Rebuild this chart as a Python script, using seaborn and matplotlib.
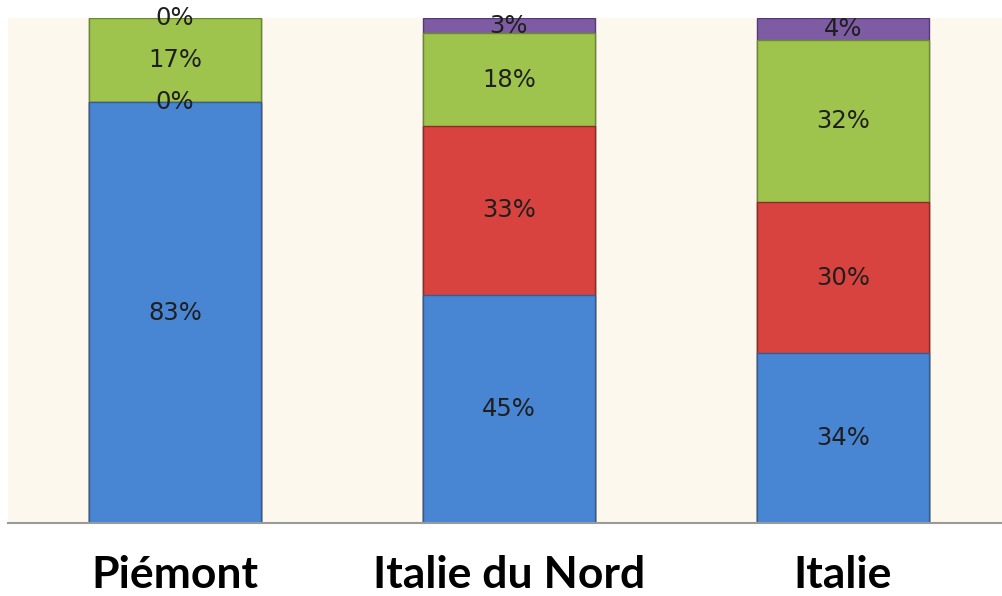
import matplotlib
matplotlib.use("Agg")
import matplotlib.pyplot as plt
import seaborn as sns
import numpy as np
import pandas as pd

categories = ["Piémont", "Italie du Nord", "Italie"]
series_names = ["S1", "S2", "S3", "S4"]
s1 = [83.3, 45.2, 33.7]
s2 = [0.0, 33.4, 29.8]
s3 = [16.7, 18.4, 32.1]
s4 = [0.0, 3.0, 4.4]
labels_s1 = ["83%", "45%", "34%"]
labels_s2 = ["0%", "33%", "30%"]
labels_s3 = ["17%", "18%", "32%"]
labels_s4 = ["0%", "3%", "4%"]

colors = ["#4886D4", "#D8433F", "#9FC44D", "#7E5CA3"]
edges = ["#2F5E9A", "#8E2A28", "#6B8A2C", "#54387A"]

sns.set_theme(style="white")
plt.rcParams["font.family"] = ["DejaVu Sans"]

fig = plt.figure(figsize=(10.03, 5.96), dpi=100)
ax = fig.add_axes([8/1003, (596-523)/596, 1 - 8/1003, (523-18)/596])
ax.set_facecolor("#FDF8EE")

series = [s1, s2, s3, s4]
labs = [labels_s1, labels_s2, labels_s3, labels_s4]
cum = np.cumsum(np.array(series), axis=0)

# draw from top down so lower layers cover upper totals
for i in range(len(series) - 1, -1, -1):
    df = pd.DataFrame({"cat": categories, "val": cum[i]})
    sns.barplot(data=df, x="cat", y="val", color=colors[i], width=0.515,
                edgecolor=edges[i], linewidth=1.0, saturation=1, ax=ax, zorder=2 + (3 - i) * 0.01)

for i in range(len(series)):
    for j in range(len(categories)):
        bottom = cum[i][j] - series[i][j]
        ymid = bottom + series[i][j] / 2
        ax.text(j, ymid, labs[i][j], ha="center", va="center", fontsize=17.5,
                color="#1f1f1f", zorder=10)

ax.set_ylim(0, 100)
ax.set_xlim(-0.5, 2.48)
ax.set_xlabel("")
ax.set_ylabel("")
ax.set_yticks([])
for s in ["top", "right", "left"]:
    ax.spines[s].set_visible(False)
ax.spines["bottom"].set_color("#9a9a9a")
ax.spines["bottom"].set_linewidth(1.5)
ax.tick_params(axis="x", length=0, pad=23)
for t in ax.get_xticklabels():
    t.set_fontfamily(["Lato", "DejaVu Sans"])
    t.set_fontweight("bold")
    t.set_fontsize(32)
    t.set_color("black")

fig.savefig("out.png", dpi=100, facecolor="white")
